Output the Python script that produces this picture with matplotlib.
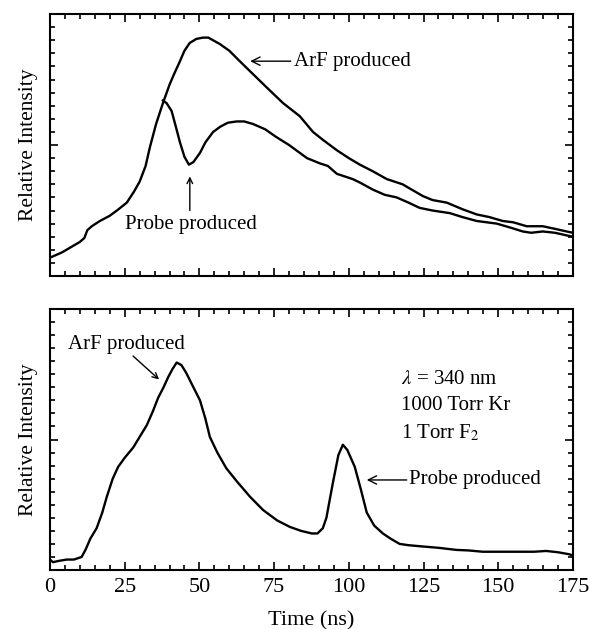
import matplotlib
matplotlib.use("Agg")
import matplotlib.pyplot as plt
from matplotlib.ticker import MultipleLocator, NullFormatter

# top panel: ArF produced (upper trace)
t_arf_top = [0, 2, 4, 7, 10, 11.5, 12.5, 14, 16.7, 20, 22.4, 25.7, 28, 30, 32, 33.4, 35.5, 37.8,
             40, 41.5, 43.5, 45, 46.8, 49, 51.2, 53, 56.9, 60, 63.5, 68, 72.5, 78, 83.6,
             88, 91.3, 96, 100, 103.7, 108, 112.7, 118, 121, 124.8, 128, 132.8, 138, 142.8,
             147, 151.5, 155, 159.5, 164.9, 169, 172.9, 175]
i_arf_top = [0.07, 0.08, 0.09, 0.11, 0.13, 0.145, 0.175, 0.19, 0.21, 0.23, 0.25, 0.28, 0.32, 0.36, 0.42, 0.49, 0.58, 0.66,
             0.73, 0.77, 0.82, 0.86, 0.89, 0.905, 0.91, 0.91, 0.885, 0.86, 0.82, 0.77, 0.72, 0.66, 0.61,
             0.55, 0.52, 0.48, 0.45, 0.425, 0.40, 0.37, 0.35, 0.33, 0.305, 0.29, 0.28, 0.255, 0.235,
             0.225, 0.21, 0.205, 0.19, 0.19, 0.18, 0.17, 0.165]

# top panel: probe produced (lower trace, splits off at ~38 ns)
t_probe_top = [37.8, 39, 40.7, 42, 43.5, 45, 46.5, 48, 50.2, 52, 54.6, 57, 59.5, 62.5, 65, 68,
               72, 75.8, 80, 83.6, 86, 90.3, 93, 96, 101.3, 104, 108, 112, 116, 120, 123.7,
               128, 133.8, 138, 142.8, 149.5, 154, 158.2, 161, 164.9, 169, 172.9, 175]
i_probe_top = [0.67, 0.66, 0.63, 0.575, 0.51, 0.455, 0.425, 0.435, 0.47, 0.51, 0.55, 0.57, 0.585, 0.59, 0.59, 0.58,
               0.56, 0.53, 0.50, 0.47, 0.45, 0.43, 0.42, 0.39, 0.37, 0.355, 0.33, 0.31, 0.30, 0.28, 0.26,
               0.25, 0.24, 0.225, 0.21, 0.20, 0.185, 0.17, 0.165, 0.17, 0.165, 0.155, 0.15]

# bottom panel trace
t_bot = [0, 1, 3, 5.6, 8, 10.6, 12, 13.5, 15.6, 17.5, 19, 21, 22.8, 25, 27.9, 30, 32.4, 34.5, 36.2,
         38, 39.6, 41, 42.4, 44, 45.6, 48, 50.2, 52, 53.5, 56, 59, 62.5, 67, 71.3, 76, 80.3,
         84, 87.6, 89.5, 91.3, 92.5, 94.6, 96.5, 98, 99.5, 102, 104, 106, 108.5, 111.4, 114,
         117, 120, 124.8, 130, 136, 140, 144.8, 150, 158.2, 162, 166, 170, 173.9, 175]
i_bot = [0.04, 0.03, 0.035, 0.04, 0.04, 0.05, 0.08, 0.12, 0.16, 0.22, 0.28, 0.35, 0.395, 0.43, 0.47, 0.51, 0.555, 0.61, 0.66,
         0.70, 0.74, 0.77, 0.795, 0.785, 0.755, 0.70, 0.65, 0.58, 0.51, 0.45, 0.39, 0.34, 0.28, 0.23, 0.19, 0.165,
         0.15, 0.14, 0.14, 0.16, 0.20, 0.33, 0.44, 0.48, 0.46, 0.395, 0.31, 0.22, 0.17, 0.14, 0.12,
         0.10, 0.095, 0.09, 0.085, 0.077, 0.075, 0.07, 0.07, 0.07, 0.07, 0.073, 0.068, 0.06, 0.055]

xticks = [0, 25, 50, 75, 100, 125, 150, 175]

plt.rcParams['font.family'] = ['Liberation Serif', 'DejaVu Serif']
plt.rcParams['mathtext.fontset'] = 'stix'

fig = plt.figure(figsize=(5.9, 6.29), dpi=100)
ax1 = fig.add_axes([0.0847, 0.5612, 0.8864, 0.4165])
ax2 = fig.add_axes([0.0847, 0.0938, 0.8864, 0.4149])

for ax in (ax1, ax2):
    ax.set_xlim(0, 175)
    ax.set_ylim(0, 1)
    ax.set_xticks(xticks)
    ax.xaxis.set_minor_locator(MultipleLocator(5))
    ax.yaxis.set_major_locator(MultipleLocator(0.5))
    ax.yaxis.set_minor_locator(MultipleLocator(0.05))
    ax.tick_params(which='both', direction='in', top=True, right=True, width=1.2)
    ax.tick_params(which='major', length=6)
    ax.tick_params(which='minor', length=3.5)
    ax.yaxis.set_major_formatter(NullFormatter())
    for s in ax.spines.values():
        s.set_linewidth(1.5)
    ax.set_ylabel('Relative Intensity', fontsize=15.5, labelpad=5)

ax1.xaxis.set_major_formatter(NullFormatter())

ax1.plot(t_arf_top, i_arf_top, color='black', lw=1.7)
ax1.plot(t_probe_top, i_probe_top, color='black', lw=1.7)
ax2.plot(t_bot, i_bot, color='black', lw=1.7)

fs = 15
arrow = dict(arrowstyle='->', color='black', lw=1.0, shrinkA=0, shrinkB=0)
ax1.annotate('ArF produced', xy=(67, 0.82), xytext=(81.5, 0.82), fontsize=fs,
             ha='left', va='center', arrowprops=arrow)
ax1.annotate('', xy=(46.8, 0.38), xytext=(46.8, 0.25), arrowprops=arrow)
ax1.text(47.2, 0.195, 'Probe produced', fontsize=fs, ha='center', va='center')

ax2.annotate('', xy=(36.5, 0.73), xytext=(27.8, 0.82), arrowprops=arrow)
ax2.text(25.6, 0.865, 'ArF produced', fontsize=fs, ha='center', va='center')
ax2.annotate('Probe produced', xy=(106, 0.345), xytext=(120.3, 0.345), fontsize=fs,
             ha='left', va='center', arrowprops=arrow)
ax2.text(117.5, 0.73, r'$\lambda$ = 340 nm', fontsize=fs, ha='left', va='center')
ax2.text(117.5, 0.63, '1000 Torr Kr', fontsize=fs, ha='left', va='center')
ax2.text(117.5, 0.525, r'1 Torr F$_2$', fontsize=fs, ha='left', va='center')

ax2.tick_params(axis='x', labelsize=16, pad=6)
ax2.set_xlabel('Time (ns)', fontsize=16, labelpad=10)

fig.savefig('out.png', dpi=100)
